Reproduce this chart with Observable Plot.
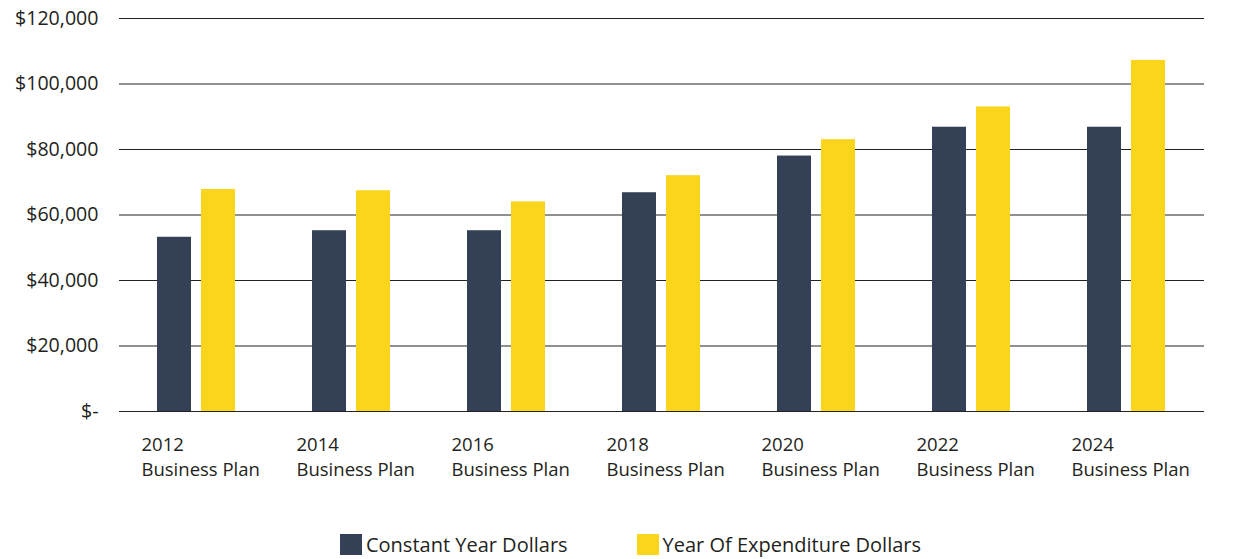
<!DOCTYPE html>
<html><head><meta charset="utf-8">
<script src="https://cdn.jsdelivr.net/npm/d3@7"></script>
<script src="https://cdn.jsdelivr.net/npm/@observablehq/plot@0.6"></script>
<style>
body{margin:0;background:#fff;font-family:"Open Sans",sans-serif;}
#legend{display:flex;justify-content:center;gap:69px;margin-top:31px;font-size:20px;color:#231f20;padding-left:10px}
.item{display:flex;align-items:center;gap:4px}
.sw{width:22px;height:21px;display:inline-block}
</style></head><body>
<div id="chart"></div><div id="legend"></div>
<script>
const plans = ["2012","2014","2016","2018","2020","2022","2024"];
const planLabel = "Business Plan";
const series = ["Constant Year Dollars","Year Of Expenditure Dollars"];
const constantDollars = [53200, 55200, 55200, 66800, 78000, 86800, 86800];
const yoeDollars = [67800, 67400, 64000, 72000, 83000, 93000, 107200];
const yTicks = [0, 20000, 40000, 60000, 80000, 100000, 120000];
const colors = ["#334056", "#fbd41c"];

const data = plans.flatMap((p, i) => [
  {plan: p, series: series[0], value: constantDollars[i]},
  {plan: p, series: series[1], value: yoeDollars[i]}
]);
const fmt = d => d === 0 ? "$-" : "$" + d3.format(",")(d);

const chart = Plot.plot({
  width: 1251, height: 500,
  marginLeft: 116, marginRight: 44, marginTop: 18, marginBottom: 89,
  style: {fontFamily: "Open Sans", fontSize: "19.6px", color: "#231f20", background: "#fff"},
  fx: {domain: plans, padding: 0, axis: null, label: null},
  x: {domain: series, paddingInner: 0.22, paddingOuter: 0.84, axis: null},
  y: {domain: [0, 120000], ticks: yTicks, tickFormat: fmt, tickSize: 0, tickPadding: 21, label: null},
  color: {domain: series, range: colors},
  marks: [
    Plot.ruleY(yTicks, {stroke: "#222", strokeWidth: 1.2}),
    Plot.barY(data, {fx: "plan", x: "series", y: "value", fill: "series"}),
    Plot.text(plans, {fx: d => d, text: d => d + "\n" + planLabel, frameAnchor: "bottom-left",
      textAnchor: "start", lineAnchor: "top", dy: 21, dx: 22, fontSize: 18.5, lineHeight: 1.37, fill: "#231f20"})
  ]
});
document.getElementById("chart").appendChild(chart);

const legend = document.getElementById("legend");
series.forEach((s, i) => {
  const it = document.createElement("div");
  it.className = "item";
  it.innerHTML = `<span class="sw" style="background:${colors[i]}"></span><span>${s}</span>`;
  legend.appendChild(it);
});
</script>
</body></html>
